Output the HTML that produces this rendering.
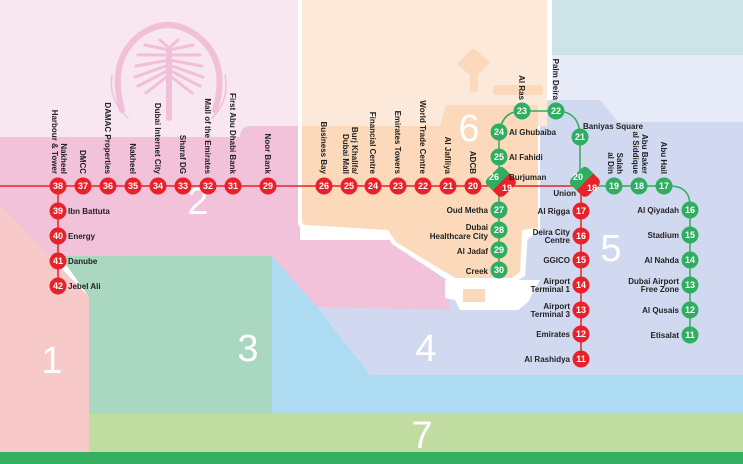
<!DOCTYPE html>
<html><head><meta charset="utf-8"><style>
html,body{margin:0;padding:0;width:743px;height:464px;overflow:hidden;background:#fff}
svg{display:block}
text{font-family:"Liberation Sans",sans-serif}
.l{font-size:8px;font-weight:bold;fill:#222}
.n{font-size:9px;font-weight:bold;fill:#fff;text-anchor:middle}
.z{font-size:38px;fill:#fff;text-anchor:middle;font-weight:normal}
</style></head><body>
<svg width="743" height="464" viewBox="0 0 743 464" xmlns="http://www.w3.org/2000/svg">
<rect x="0" y="0" width="743" height="464" fill="#fff"/>
<rect x="0" y="0" width="300" height="140" fill="#f8e6f0"/>
<rect x="552" y="0" width="191" height="55" fill="#cde4e6"/>
<rect x="552" y="55" width="191" height="70" fill="#e7eaf7"/>
<path d="M0,137 L240,137 Q240,126 252,126 L300,126 L300,256 L0,256 Z" fill="#f2c1da"/>
<polygon points="272,256 743,256 743,414 272,414" fill="#addcf2"/>
<polygon points="520,100 600,100 618,122 743,122 743,375 370,375 317,307 440,305 540,230 540,100" fill="#d1d9f1"/>
<polygon points="272,256 300,256 300,240 390,240 445,280 450,310 317,307" fill="#f2c1da"/>
<polygon points="60,256 272,256 272,414 89,414 89,297" fill="#aad7c0"/>
<polygon points="0,205 89,297 89,452 0,452" fill="#f7c9c9"/>
<rect x="89" y="414" width="654" height="38" fill="#c0dca0"/>
<rect x="0" y="452" width="743" height="12" fill="#34b060"/>
<path d="M298,0 L550,0 L550,100 L540,103 L540,230 L528,232 L525,276 L515,282 L450,282 L392,244 L385,232 L304,228 Q298,228 298,222 Z" fill="#fff"/>
<rect x="302" y="0" width="245" height="126" fill="#fde9d9"/>
<path d="M302,126 L440,126 L446,105 L538,105 L538,228 L522,230 L520,272 L512,278 L455,278 L396,242 L388,230 L306,225 Q302,225 302,220 Z" fill="#fbd9ba"/>
<polygon points="473,48 490,62 478,75 478,92 470,92 470,75 457,64" fill="#fbd9ba"/>
<rect x="493" y="85" width="50" height="10" rx="3" fill="#fbd9ba"/>
<path d="M445,280 L540,280 L528,302 L518,310 L460,310 L455,300 L445,298 Z" fill="#fff"/>
<rect x="463" y="289" width="22" height="13" fill="#fbd9ba"/>
<g fill="none" stroke="#f2bfd8" stroke-linecap="round">
<path d="M122,110 Q108,60 140,35 Q168,15 196,35 Q230,60 215,110" stroke-width="6"/>
<path d="M112,75 Q108,100 128,118 M225,75 Q230,100 212,118" stroke-width="1.5"/>
<g stroke-width="3">
<line x1="169" y1="52" x2="169" y2="118" stroke-width="6"/>
<line x1="169" y1="55" x2="138" y2="55"/><line x1="169" y1="55" x2="200" y2="55"/>
<line x1="169" y1="60" x2="136" y2="66"/><line x1="169" y1="60" x2="202" y2="66"/>
<line x1="169" y1="65" x2="135" y2="77"/><line x1="169" y1="65" x2="203" y2="77"/>
<line x1="169" y1="70" x2="138" y2="86"/><line x1="169" y1="70" x2="200" y2="86"/>
<line x1="169" y1="75" x2="146" y2="93"/><line x1="169" y1="75" x2="192" y2="93"/>
<line x1="169" y1="50" x2="145" y2="45"/><line x1="169" y1="50" x2="193" y2="45"/>
<line x1="169" y1="48" x2="160" y2="40"/><line x1="169" y1="48" x2="178" y2="40"/>
</g></g>
<text class="z" x="52" y="373">1</text>
<text class="z" x="198" y="214">2</text>
<text class="z" x="248" y="361">3</text>
<text class="z" x="426" y="361">4</text>
<text class="z" x="611" y="261">5</text>
<text class="z" x="469" y="141">6</text>
<text class="z" x="422" y="448">7</text>
<g fill="none">
<path d="M0,186 L591,186" stroke="#e8222a" stroke-width="1.5"/>
<path d="M58,186 L58,286" stroke="#e8222a" stroke-width="1.5"/>
<path d="M581,186 L581,359" stroke="#e8222a" stroke-width="1.5"/>
<path d="M499,270 L499,140 Q499,111 522,111 L556,111 Q580,111 580,137 L580,180" stroke="#2fae61" stroke-width="1.5"/>
<path d="M591,186 L670,186 Q690,186 690,206 L690,335" stroke="#2fae61" stroke-width="1.5"/>
</g>
<g transform="translate(501,182) rotate(45)">
<rect x="-12" y="-12" width="24" height="24" rx="5" fill="#e8222a"/>
<path d="M0,-12 L-7,-12 Q-12,-12 -12,-7 L-12,7 Q-12,12 -7,12 L0,12 Z" fill="#2fae61"/>
</g>
<g transform="translate(585,182) rotate(45)">
<rect x="-12" y="-12" width="24" height="24" rx="5" fill="#e8222a"/>
<path d="M0,-12 L-7,-12 Q-12,-12 -12,-7 L-12,7 Q-12,12 -7,12 L0,12 Z" fill="#2fae61"/>
</g>
<text class="n" x="494" y="180">26</text><text class="n" x="507" y="191">19</text>
<text class="n" x="578" y="180">20</text><text class="n" x="592" y="191">18</text>
<g fill="#e8222a">
<circle cx="58" cy="186" r="8.5"/><circle cx="83" cy="186" r="8.5"/><circle cx="108" cy="186" r="8.5"/><circle cx="133" cy="186" r="8.5"/><circle cx="158" cy="186" r="8.5"/><circle cx="183" cy="186" r="8.5"/><circle cx="208" cy="186" r="8.5"/><circle cx="233" cy="186" r="8.5"/><circle cx="268" cy="186" r="8.5"/><circle cx="324" cy="186" r="8.5"/><circle cx="349" cy="186" r="8.5"/><circle cx="373" cy="186" r="8.5"/><circle cx="398" cy="186" r="8.5"/><circle cx="423" cy="186" r="8.5"/><circle cx="448" cy="186" r="8.5"/><circle cx="473" cy="186" r="8.5"/>
<circle cx="58" cy="211" r="8.5"/><circle cx="58" cy="236" r="8.5"/><circle cx="58" cy="261" r="8.5"/><circle cx="58" cy="286" r="8.5"/>
<circle cx="581" cy="211" r="8.5"/><circle cx="581" cy="236" r="8.5"/><circle cx="581" cy="260" r="8.5"/><circle cx="581" cy="285" r="8.5"/><circle cx="581" cy="310" r="8.5"/><circle cx="581" cy="334" r="8.5"/><circle cx="581" cy="359" r="8.5"/>
</g>
<g fill="#2fae61">
<circle cx="499" cy="157" r="8.5"/><circle cx="499" cy="132" r="8.5"/><circle cx="522" cy="111" r="8.5"/><circle cx="556" cy="111" r="8.5"/><circle cx="580" cy="137" r="8.5"/>
<circle cx="499" cy="210" r="8.5"/><circle cx="499" cy="230" r="8.5"/><circle cx="499" cy="250" r="8.5"/><circle cx="499" cy="270" r="8.5"/>
<circle cx="614" cy="186" r="8.5"/><circle cx="639" cy="186" r="8.5"/><circle cx="664" cy="186" r="8.5"/>
<circle cx="690" cy="210" r="8.5"/><circle cx="690" cy="235" r="8.5"/><circle cx="690" cy="260" r="8.5"/><circle cx="690" cy="285" r="8.5"/><circle cx="690" cy="310" r="8.5"/><circle cx="690" cy="335" r="8.5"/>
</g>
<g>
<text class="n" x="58" y="189">38</text><text class="n" x="83" y="189">37</text><text class="n" x="108" y="189">36</text><text class="n" x="133" y="189">35</text><text class="n" x="158" y="189">34</text><text class="n" x="183" y="189">33</text><text class="n" x="208" y="189">32</text><text class="n" x="233" y="189">31</text><text class="n" x="268" y="189">29</text><text class="n" x="324" y="189">26</text><text class="n" x="349" y="189">25</text><text class="n" x="373" y="189">24</text><text class="n" x="398" y="189">23</text><text class="n" x="423" y="189">22</text><text class="n" x="448" y="189">21</text><text class="n" x="473" y="189">20</text>
<text class="n" x="58" y="214">39</text><text class="n" x="58" y="239">40</text><text class="n" x="58" y="264">41</text><text class="n" x="58" y="289">42</text>
<text class="n" x="581" y="214">17</text><text class="n" x="581" y="239">16</text><text class="n" x="581" y="263">15</text><text class="n" x="581" y="288">14</text><text class="n" x="581" y="313">13</text><text class="n" x="581" y="337">12</text><text class="n" x="581" y="362">11</text>
<text class="n" x="499" y="160">25</text><text class="n" x="499" y="135">24</text><text class="n" x="522" y="114">23</text><text class="n" x="556" y="114">22</text><text class="n" x="580" y="140">21</text>
<text class="n" x="499" y="213">27</text><text class="n" x="499" y="233">28</text><text class="n" x="499" y="253">29</text><text class="n" x="499" y="273">30</text>
<text class="n" x="614" y="189">19</text><text class="n" x="639" y="189">18</text><text class="n" x="664" y="189">17</text>
<text class="n" x="690" y="213">16</text><text class="n" x="690" y="238">15</text><text class="n" x="690" y="263">14</text><text class="n" x="690" y="288">13</text><text class="n" x="690" y="313">12</text><text class="n" x="690" y="338">11</text>
</g>
<g class="l">
<text transform="translate(61,174) rotate(90)" text-anchor="end">Nakheel</text>
<text transform="translate(52,174) rotate(90)" text-anchor="end">Harbour &amp; Tower</text>
<text transform="translate(80,174) rotate(90)" text-anchor="end">DMCC</text>
<text transform="translate(105,174) rotate(90)" text-anchor="end">DAMAC Properties</text>
<text transform="translate(130,174) rotate(90)" text-anchor="end">Nakheel</text>
<text transform="translate(155,174) rotate(90)" text-anchor="end">Dubai Internet City</text>
<text transform="translate(180,174) rotate(90)" text-anchor="end">Sharaf DG</text>
<text transform="translate(205,174) rotate(90)" text-anchor="end">Mall of the Emirates</text>
<text transform="translate(230,174) rotate(90)" text-anchor="end">First Abu Dhabi Bank</text>
<text transform="translate(265,174) rotate(90)" text-anchor="end">Noor Bank</text>
<text transform="translate(321,174) rotate(90)" text-anchor="end">Business Bay</text>
<text transform="translate(352,174) rotate(90)" text-anchor="end">Burj Khalifa/</text>
<text transform="translate(343,174) rotate(90)" text-anchor="end">Dubai Mall</text>
<text transform="translate(370,174) rotate(90)" text-anchor="end">Financial Centre</text>
<text transform="translate(395,174) rotate(90)" text-anchor="end">Emirates Towers</text>
<text transform="translate(420,174) rotate(90)" text-anchor="end">World Trade Centre</text>
<text transform="translate(445,174) rotate(90)" text-anchor="end">Al Jafiliya</text>
<text transform="translate(470,174) rotate(90)" text-anchor="end">ADCB</text>
<text transform="translate(519,100) rotate(90)" text-anchor="end">Al Ras</text>
<text transform="translate(553,100) rotate(90)" text-anchor="end">Palm Deira</text>
<text transform="translate(617,174) rotate(90)" text-anchor="end">Salah</text>
<text transform="translate(608,174) rotate(90)" text-anchor="end">al Din</text>
<text transform="translate(642,174) rotate(90)" text-anchor="end">Abu Baker</text>
<text transform="translate(633,174) rotate(90)" text-anchor="end">al Siddique</text>
<text transform="translate(661,174) rotate(90)" text-anchor="end">Abu Hail</text>
</g>
<g class="l">
<text x="68" y="214">Ibn Battuta</text><text x="68" y="239">Energy</text><text x="68" y="264">Danube</text><text x="68" y="289">Jebel Ali</text>
<text x="509" y="135">Al Ghubaiba</text><text x="509" y="160">Al Fahidi</text><text x="509" y="180">Burjuman</text>
<text x="583" y="129">Baniyas Square</text>
</g>
<g class="l" text-anchor="end">
<text x="488" y="213">Oud Metha</text>
<text x="488" y="230">Dubai</text><text x="488" y="239">Healthcare City</text>
<text x="488" y="254">Al Jadaf</text><text x="488" y="274">Creek</text>
<text x="576" y="196">Union</text>
<text x="570" y="214">Al Rigga</text>
<text x="570" y="235">Deira City</text><text x="570" y="243">Centre</text>
<text x="570" y="263">GGICO</text>
<text x="570" y="284">Airport</text><text x="570" y="292">Terminal 1</text>
<text x="570" y="309">Airport</text><text x="570" y="317">Terminal 3</text>
<text x="570" y="337">Emirates</text><text x="570" y="362">Al Rashidya</text>
<text x="679" y="213">Al Qiyadah</text><text x="679" y="238">Stadium</text><text x="679" y="263">Al Nahda</text>
<text x="679" y="284">Dubai Airport</text><text x="679" y="292">Free Zone</text>
<text x="679" y="313">Al Qusais</text><text x="679" y="338">Etisalat</text>
</g>
</svg>
</body></html>
